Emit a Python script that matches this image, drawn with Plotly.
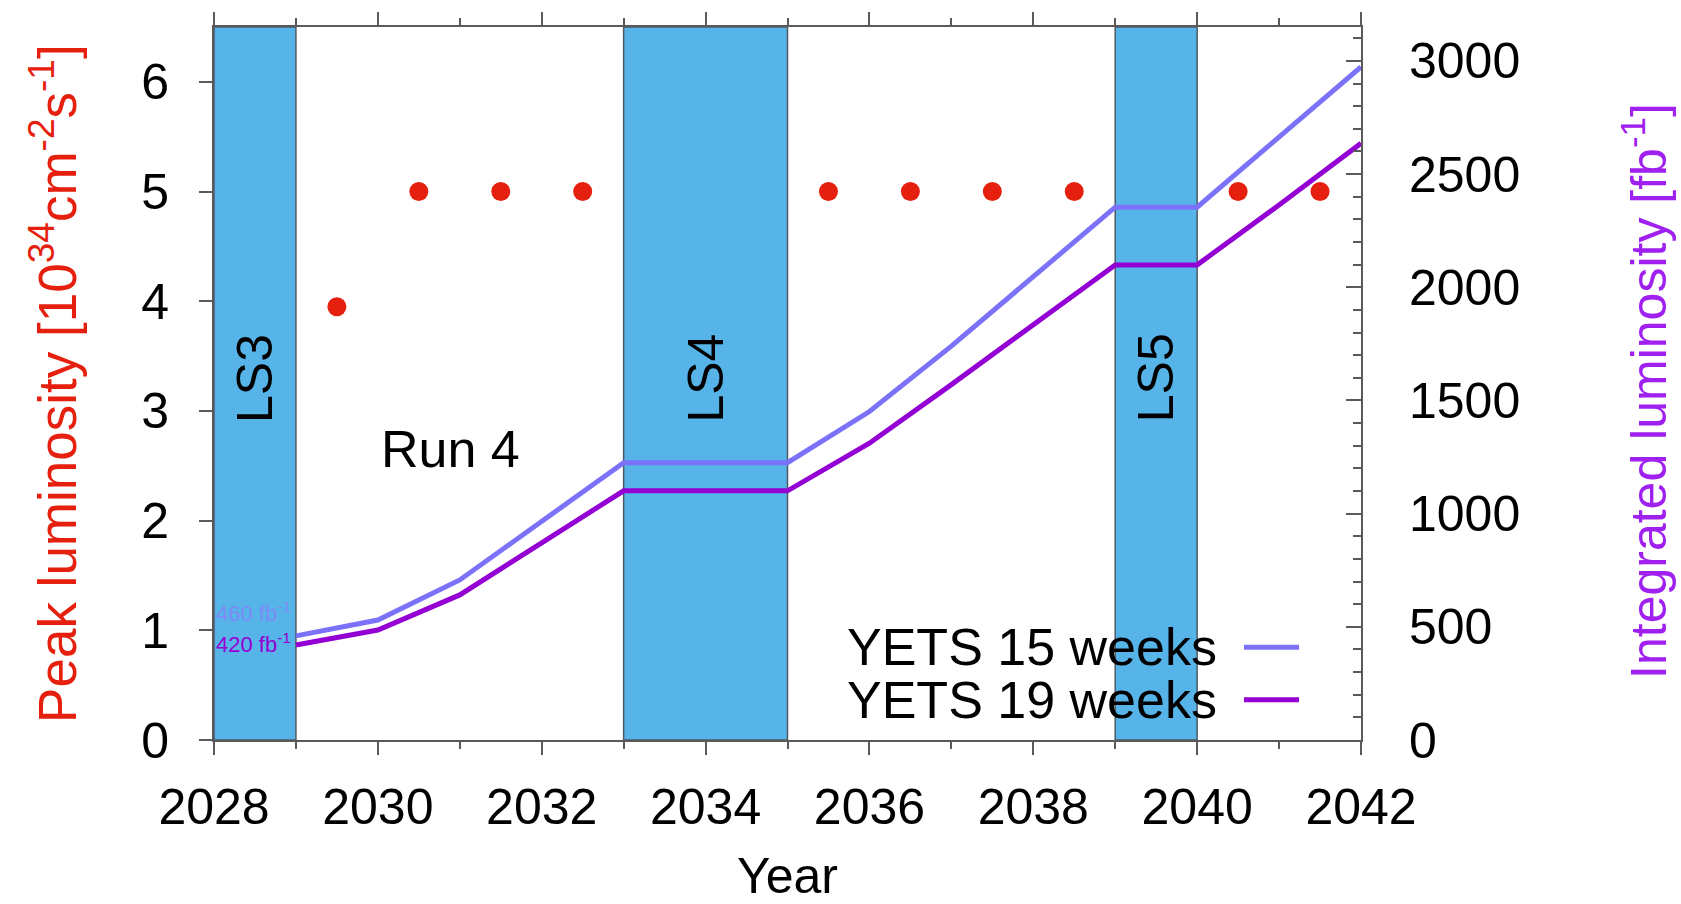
import plotly.graph_objects as go

# Peak luminosity per run year (left axis, 10^34 cm^-2 s^-1)
peak_years = [2029.5, 2030.5, 2031.5, 2032.5, 2035.5, 2036.5, 2037.5, 2038.5, 2040.5, 2041.5]
peak_lumi = [3.95, 5.0, 5.0, 5.0, 5.0, 5.0, 5.0, 5.0, 5.0, 5.0]

# Integrated luminosity (right axis, fb^-1)
int_years = [2029, 2030, 2031, 2032, 2033, 2035, 2036, 2037, 2038, 2039, 2040, 2041, 2042]
yets15 = [460, 530, 707, 965, 1225, 1225, 1451, 1740, 2045, 2354, 2354, 2662, 2974]
yets19 = [420, 486, 641, 872, 1101, 1101, 1311, 1570, 1835, 2099, 2099, 2364, 2636]

# Long shutdowns
ls_names = ["LS3", "LS4", "LS5"]
ls_start = [2028, 2033, 2039]
ls_end = [2029, 2035, 2040]

x_ticks = [2028, 2030, 2032, 2034, 2036, 2038, 2040, 2042]

FONT = "Liberation Sans, Arial, sans-serif"
RED = "#e5200e"
C15 = "#7c72fa"
C19 = "#9400d3"
BAND = "#56b4e9"
AXC = "#5a5a5a"

fig = go.Figure()

fig.add_trace(go.Scatter(
    x=int_years, y=yets15, yaxis="y2", mode="lines",
    line=dict(color=C15, width=5), name="YETS 15 weeks", showlegend=False))
fig.add_trace(go.Scatter(
    x=int_years, y=yets19, yaxis="y2", mode="lines",
    line=dict(color=C19, width=5), name="YETS 19 weeks", showlegend=False))
fig.add_trace(go.Scatter(
    x=peak_years, y=peak_lumi, mode="markers",
    marker=dict(color=RED, size=19), name="Peak luminosity", showlegend=False))

shapes = []
annotations = []
for name, x0, x1 in zip(ls_names, ls_start, ls_end):
    shapes.append(dict(type="rect", xref="x", yref="y", x0=x0, x1=x1, y0=0, y1=6.5,
                       fillcolor=BAND, line=dict(color="#4d5a63", width=1.5), layer="below"))
    annotations.append(dict(xref="x", yref="y", x=(x0 + x1) / 2, y=3.3, text=name,
                            textangle=-90, showarrow=False,
                            font=dict(family=FONT, size=50, color="black")))

annotations.append(dict(xref="x", yref="y", x=2030.89, y=2.65, text="Run 4", showarrow=False,
                        font=dict(family=FONT, size=52, color="black")))

# starting values of the integrated luminosity curves
annotations.append(dict(xref="x", yref="y2", x=2028.97, y=567, text="460 fb<sup>-1</sup>",
                        xanchor="right", showarrow=False,
                        font=dict(family=FONT, size=22, color="rgba(140,125,250,0.75)")))
annotations.append(dict(xref="x", yref="y2", x=2028.97, y=429, text="420 fb<sup>-1</sup>",
                        xanchor="right", showarrow=False,
                        font=dict(family=FONT, size=22, color=C19)))

# axis titles
annotations.append(dict(xref="paper", yref="paper", x=-0.14, y=0.5,
                        text="Peak luminosity [10<sup>34</sup>cm<sup>-2</sup>s<sup>-1</sup>]",
                        textangle=-90, showarrow=False, xanchor="center", yanchor="middle",
                        font=dict(family=FONT, size=53, color=RED)))
annotations.append(dict(xref="paper", yref="paper", x=1.247, y=0.49,
                        text="Integrated luminosity [fb<sup>-1</sup>]",
                        textangle=-90, showarrow=False, xanchor="center", yanchor="middle",
                        font=dict(family=FONT, size=50, color="#a020f0")))

# key: text on the left, line sample on the right
for label, color, yp in [("YETS 15 weeks", C15, 0.13), ("YETS 19 weeks", C19, 0.0565)]:
    annotations.append(dict(xref="paper", yref="paper", x=0.876, y=yp, text=label,
                            xanchor="right", yanchor="middle", showarrow=False,
                            font=dict(family=FONT, size=52, color="black")))
    shapes.append(dict(type="line", xref="paper", yref="paper", x0=0.898, x1=0.946,
                       y0=yp, y1=yp, line=dict(color=color, width=5)))

fig.update_layout(
    width=1681, height=904,
    margin=dict(l=214, r=320, t=27, b=164, autoexpand=False),
    paper_bgcolor="white", plot_bgcolor="white",
    font=dict(family=FONT, size=50, color="black"),
    shapes=shapes, annotations=annotations,
    xaxis=dict(
        range=[2028, 2042], tickvals=x_ticks, showgrid=False, zeroline=False,
        showline=True, linecolor=AXC, linewidth=2, mirror="ticks", automargin=False,
        ticks="outside", ticklen=13, tickwidth=2, tickcolor=AXC,
        minor=dict(dtick=1, ticks="outside", ticklen=7, tickwidth=1.5, tickcolor=AXC),
        tickfont=dict(family=FONT, size=50, color="black"), ticklabelstandoff=9,
        title=dict(text="Year", font=dict(family=FONT, size=50, color="black"), standoff=36),
    ),
    yaxis=dict(
        range=[0, 6.5], dtick=1, showgrid=False, zeroline=False, automargin=False,
        showline=True, linecolor=AXC, linewidth=2,
        ticks="outside", ticklen=13, tickwidth=2, tickcolor=AXC,
        tickfont=dict(family=FONT, size=50, color="black"), ticklabelstandoff=20,
    ),
    yaxis2=dict(
        range=[0, 3150], dtick=500, overlaying="y", side="right", showgrid=False,
        zeroline=False, showline=True, linecolor=AXC, linewidth=2, automargin=False,
        ticks="inside", ticklen=15, tickwidth=2, tickcolor=AXC,
        minor=dict(dtick=100, ticks="inside", ticklen=8, tickwidth=1.5, tickcolor=AXC),
        tickfont=dict(family=FONT, size=50, color="black"), ticklabelstandoff=36,
    ),
)

fig.write_html("out.html")
